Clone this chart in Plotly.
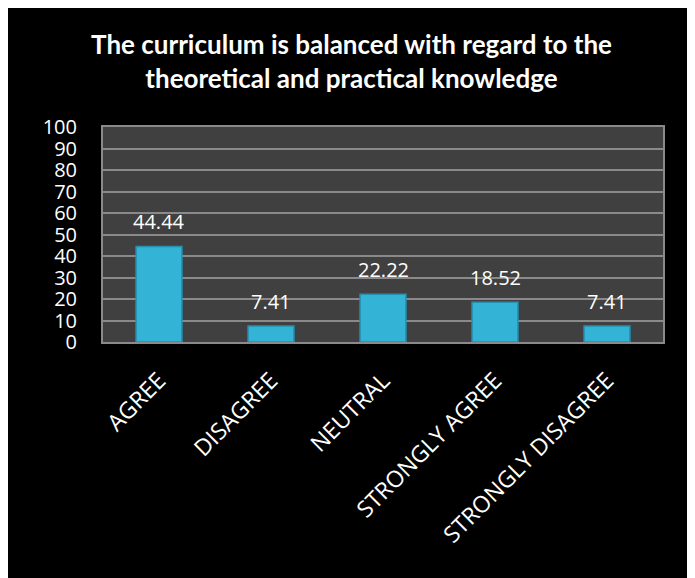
import plotly.graph_objects as go

categories = ["AGREE", "DISAGREE", "NEUTRAL", "STRONGLY AGREE", "STRONGLY DISAGREE"]
values = [44.44, 7.41, 22.22, 18.52, 7.41]
value_labels = ["44.44", "7.41", "22.22", "18.52", "7.41"]
y_ticks = [0, 10, 20, 30, 40, 50, 60, 70, 80, 90, 100]

title_text = "The curriculum is balanced with regard to the<br>theoretical and practical knowledge"

W, H = 687, 570
L, R, T, B = 95, 32, 119, 236

fig = go.Figure()
fig.add_trace(go.Bar(
    x=categories, y=values,
    width=0.41,
    marker=dict(color="#33b3d6", line=dict(color="#2590b0", width=1.5)),
    hoverinfo="x+y",
))

for c, v, t in zip(categories, values, value_labels):
    fig.add_annotation(x=c, y=v, text=t, showarrow=False, yshift=25,
                       yanchor="middle",
                       font=dict(family="Open Sans", size=20, color="white"))

fig.update_layout(
    width=W, height=H,
    margin=dict(l=L, r=R, t=T, b=B, pad=0),
    paper_bgcolor="black",
    plot_bgcolor="#404040",
    showlegend=False,
    title=dict(text=title_text, x=0.5, xanchor="center", y=0.919, yanchor="middle",
               font=dict(family="Lato", size=26, color="white", weight="bold")),
    xaxis=dict(
        tickangle=-45,
        tickfont=dict(family="Open Sans", size=23, color="white"),
        showgrid=False,
        showline=True, linecolor="#8a8a8a", linewidth=2, mirror=True,
        ticks="", ticklabelstandoff=14,
    ),
    yaxis=dict(
        range=[0, 100], tickvals=y_ticks,
        tickfont=dict(family="Open Sans", size=20, color="white"),
        showgrid=True, gridcolor="#8a8a8a", gridwidth=2,
        showline=True, linecolor="#8a8a8a", linewidth=2, mirror=True,
        zeroline=False, ticks="", ticklabelstandoff=20,
    ),
)

fig.write_html("out.html")
